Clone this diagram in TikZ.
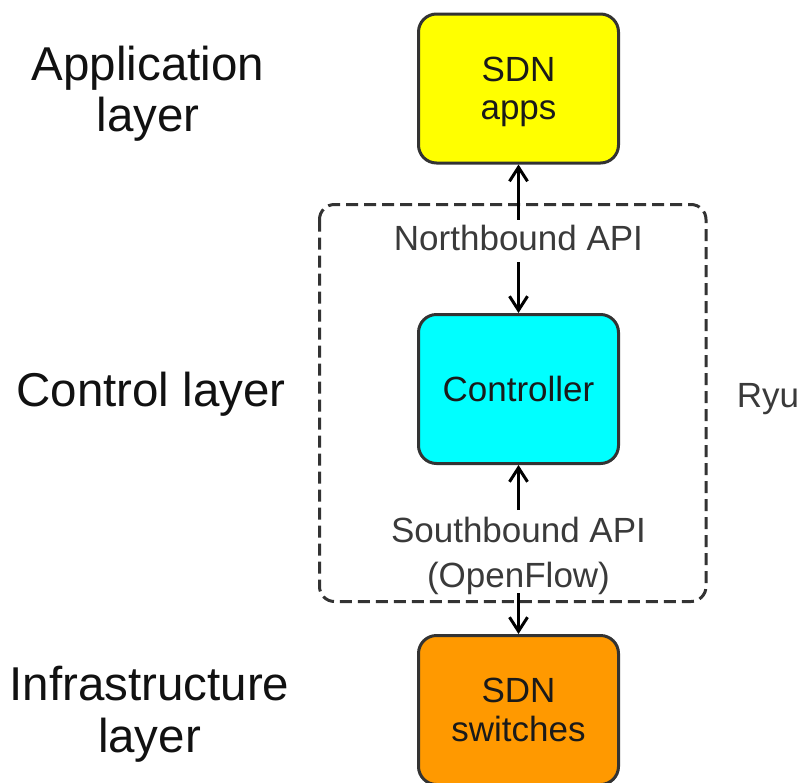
\documentclass[tikz,border=0pt]{standalone}
\usepackage{fontspec}
\setmainfont{Liberation Sans}
\usetikzlibrary{arrows.meta}

\definecolor{edge}{HTML}{333333}
\definecolor{ink}{HTML}{1A1A1A}
\definecolor{lbl}{HTML}{111111}
\definecolor{api}{HTML}{3A3A3A}
\definecolor{appyellow}{HTML}{FFFF00}
\definecolor{ctrlcyan}{HTML}{00FFFF}
\definecolor{swiorange}{HTML}{FF9900}

\begin{document}
\begin{tikzpicture}[x=1pt,y=-1pt,
  layerlabel/.style={font=\fontsize{47.5}{50.5}\selectfont, text=lbl, align=center, inner sep=0pt},
  apilabel/.style={font=\fontsize{35}{45}\selectfont, text=api, align=center, inner sep=0pt},
  block/.style={draw=edge, line width=3pt, rounded corners=18pt,
    minimum width=200pt, minimum height=149pt, inner sep=0pt, align=center,
    font=\fontsize{35}{38.5}\selectfont, text=ink},
  flow/.style={draw=black, line width=3pt, -{Straight Barb[length=14pt,width=18pt]}},
]
\useasboundingbox (0,0) rectangle (803,782);

% Ryu controller boundary
\draw[edge, line width=3pt, dash pattern=on 12pt off 6pt, rounded corners=15pt]
  (319.5,204.5) rectangle (706,601.5);

% layer blocks
\node[block, fill=appyellow, text depth=0pt] (apps) at (518.5,88.5) {SDN\\apps};
\node[block, fill=ctrlcyan] (ctrl) at (518.5,389) {Controller};
\node[block, fill=swiorange] (sw) at (518.5,710) {SDN\\switches};

% interface labels
\node[apilabel, anchor=base, text height=26pt, text depth=8pt, inner ysep=4pt] (nb) at (518.5,250) {Northbound API};
\node[apilabel, anchor=north] (sb) at (518.5,517) {Southbound API\\(OpenFlow)};
\node[apilabel, anchor=base] (ryu) at (768,407) {Ryu};

% interface arrows
\draw[flow] (nb.north) -- (apps.south);
\draw[flow] (nb.south) -- (ctrl.north);
\draw[flow] ([yshift=7pt]sb.north) -- (ctrl.south);
\draw[flow] ([yshift=2pt]sb.south) -- (sw.north);

% layer names
\node[layerlabel, anchor=north] (applayer) at (148,46) {Application\\layer};
\node[layerlabel, anchor=base] (ctllayer) at (151,406) {Control layer};
\node[layerlabel, anchor=north, font=\fontsize{47.5}{52}\selectfont] (infralayer) at (149.5,666) {Infrastructure\\layer};
\end{tikzpicture}
\end{document}
